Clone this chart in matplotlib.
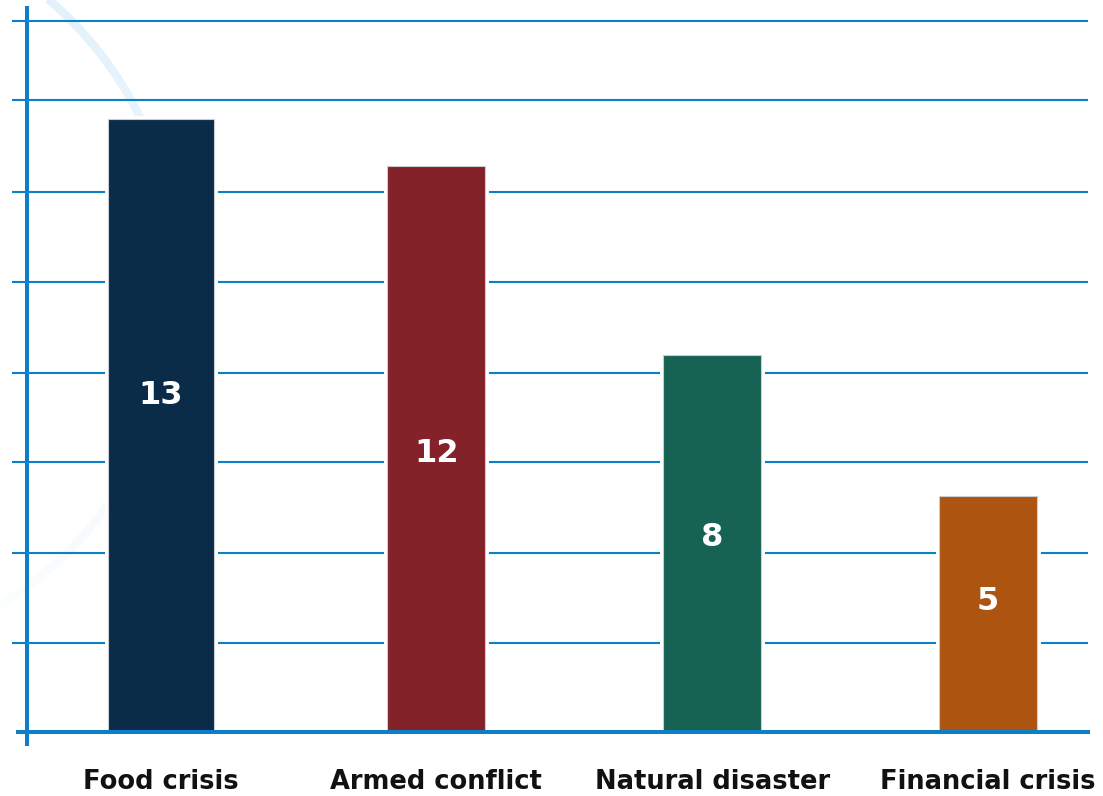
import numpy as np
import matplotlib
matplotlib.use("Agg")
import matplotlib.pyplot as plt
from matplotlib.collections import LineCollection
from matplotlib.transforms import Affine2D

# crisis types and number of cases
categories = ["Food crisis", "Armed conflict", "Natural disaster", "Financial crisis"]
counts = [13, 12, 8, 5]
bar_colors = ["#0b2c49", "#84222a", "#166253", "#ad5411"]

W, H = 1103, 796
fig = plt.figure(figsize=(W / 100, H / 100), dpi=100)
ax = fig.add_axes([0, 0, 1, 1])
ax.set_axis_off()

# layout: 275.8 px per category, 47.1 px per unit, baseline at y=731.5 px
px_x, x0 = 275.8, 160.6
px_y, y0 = 47.1, 731.5
ax.set_xlim(-x0 / px_x, (W - x0) / px_x)
ax.set_ylim((y0 - H) / px_y, y0 / px_y)

blue = "#0c7fc6"
grid_y = [1.87, 3.78, 5.73, 7.62, 9.55, 11.46, 13.40, 15.09]
ax.hlines(grid_y, (12 - x0) / px_x, (1088 - x0) / px_x, color=blue, lw=1.5, zorder=1)

# faint decorative swoosh in the corner, sitting behind the bars
pix = Affine2D().scale(1 / W, -1 / H).translate(0, 1) + fig.transFigure
theta = np.radians(np.linspace(-62, 68, 300))
cx, cy, r = -196.6, 284.4, 376.0
pts = np.column_stack([cx + r * np.cos(theta), cy + r * np.sin(theta)])
segs = np.stack([pts[:-1], pts[1:]], axis=1)
alpha = np.linspace(0.4, 0.04, len(segs)) ** 1.2
lc = LineCollection(segs, colors=[(0.62, 0.82, 0.97, a) for a in alpha],
                    linewidths=6, transform=pix, zorder=0.5)
ax.add_collection(lc, autolim=False)

x = np.arange(len(categories))
widths = [0.384, 0.356, 0.356, 0.356]
# white halo around the bars cuts the gridlines
ax.bar(x, counts, width=widths, color="white", edgecolor="white", lw=5, zorder=2)
ax.bar(x, counts, width=widths, color=bar_colors, edgecolor="#c9ced4", lw=0.8, zorder=3)

# axis lines
ax.hlines(0, (16 - x0) / px_x, (1090 - x0) / px_x, color=blue, lw=2.9, zorder=4)
ax.vlines((27 - x0) / px_x, (y0 - 746) / px_y, (y0 - 6) / px_y, color=blue, lw=2.9, zorder=4)

# value labels inside bars
label_frac = [0.548, 0.492, 0.514, 0.55]
for xi, v, f in zip(x, counts, label_frac):
    ax.text(xi, v * f, str(v), ha="center", va="center", color="white",
            fontsize=23, fontweight="bold", zorder=5)

for xi, name in zip(x, categories):
    ax.text(xi, (y0 - 782) / px_y, name, ha="center", va="center", color="#111111",
            fontsize=18.5, fontweight="bold")

fig.savefig("out.png", dpi=100)
